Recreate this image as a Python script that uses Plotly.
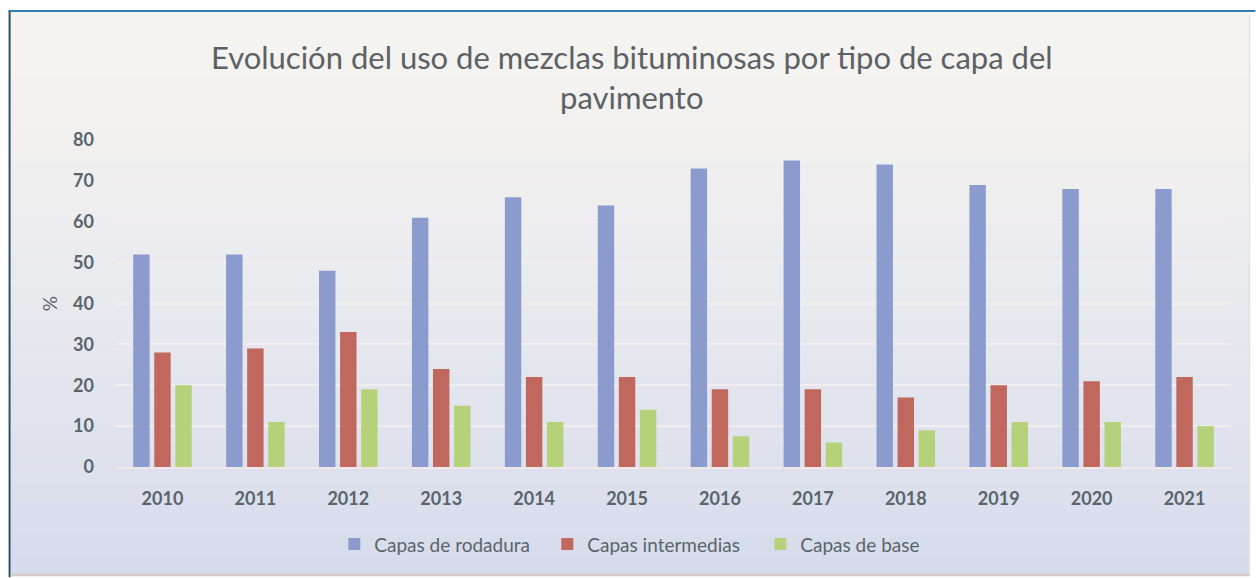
import plotly.graph_objects as go

years = ["2010", "2011", "2012", "2013", "2014", "2015", "2016", "2017", "2018", "2019", "2020", "2021"]
rodadura = [52, 52, 48, 61, 66, 64, 73, 75, 74, 69, 68, 68]
intermedias = [28, 29, 33, 24, 22, 22, 19, 19, 17, 20, 21, 22]
base = [20, 11, 19, 15, 11, 14, 7.5, 6, 9, 11, 11, 10]
series_names = ["Capas de rodadura", "Capas intermedias", "Capas de base"]
series_colors = ["#8B9BCD", "#C0675E", "#B5D27A"]

W, H = 1256, 578
L, R, T, B = 115.5, 1231.5, 139.5, 467.5

def px_x(px):
    return (px - L) / (R - L)

def px_y(py):
    return (B - py) / (B - T)

text_color = "#59646b"
font_family = "Lato, 'Open Sans', sans-serif"

fig = go.Figure()
for name, vals, col in zip(series_names, [rodadura, intermedias, base], series_colors):
    fig.add_trace(go.Bar(x=years, y=vals, name=name, marker=dict(color=col, line=dict(width=0))))

# background gradient bands
shapes = []
top_c = (246, 244, 240)
bot_c = (214, 219, 236)
y0, y1 = 11, 576
n = 60
for i in range(n):
    a = y0 + (y1 - y0) * i / n
    b = y0 + (y1 - y0) * (i + 1) / n
    t = (i + 0.5) / n
    t = t ** 1.3
    c = tuple(round(top_c[k] + (bot_c[k] - top_c[k]) * t) for k in range(3))
    shapes.append(dict(type="rect", xref="paper", yref="paper", layer="below",
                       x0=px_x(10), x1=px_x(1250), y0=px_y(a), y1=px_y(b + 0.6),
                       fillcolor="rgb(%d,%d,%d)" % c, line=dict(width=0)))
# frame
shapes.append(dict(type="line", xref="paper", yref="paper", x0=px_x(8), x1=px_x(1256), y0=px_y(10), y1=px_y(10),
                   line=dict(color="#2f7fb0", width=2)))
shapes.append(dict(type="line", xref="paper", yref="paper", x0=px_x(9), x1=px_x(9), y0=px_y(10), y1=px_y(578),
                   line=dict(color="#2b4e66", width=2)))
shapes.append(dict(type="line", xref="paper", yref="paper", x0=px_x(1250), x1=px_x(1250), y0=px_y(14), y1=px_y(576),
                   line=dict(color="#e6e2e4", width=1.5)))
shapes.append(dict(type="line", xref="paper", yref="paper", x0=px_x(10), x1=px_x(1250), y0=px_y(576), y1=px_y(576),
                   line=dict(color="#d8c8c4", width=2)))

fig.update_layout(
    width=W, height=H, autosize=False,
    margin=dict(l=L, r=W - R, t=T, b=H - B, pad=0),
    paper_bgcolor="white",
    plot_bgcolor="rgba(0,0,0,0)",
    shapes=shapes,
    barmode="group",
    bargap=0.32,
    bargroupgap=0.22,
    font=dict(family=font_family, color=text_color),
    title=dict(
        text="Evolución del uso de mezclas bituminosas por tipo de capa del<br>pavimento",
        x=0.503, xref="container", xanchor="center",
        y=1 - 69 / H, yref="container", yanchor="middle",
        font=dict(size=31, color="#5b6165", family=font_family),
    ),
    legend=dict(
        orientation="h", x=px_x(334), xanchor="left", y=px_y(545), yanchor="middle",
        font=dict(size=19, color=text_color), bgcolor="rgba(0,0,0,0)",
        itemwidth=30, traceorder="normal",
        entrywidth=168, entrywidthmode="pixels",
    ),
    xaxis=dict(
        showgrid=False, showline=True, linecolor="#f0e8e8", linewidth=1.5,
        tickfont=dict(size=18, color=text_color, family="Lato, sans-serif", weight="bold"),
        ticks="", ticklabelstandoff=15,
    ),
    yaxis=dict(
        range=[0, 80], dtick=10, showgrid=True, gridcolor="#f3eeee", gridwidth=1.5,
        zeroline=False, showline=False,
        tickfont=dict(size=18, color=text_color, family="Lato, sans-serif", weight="bold"),
        ticks="", ticklabelstandoff=21,
        title=dict(text="%", font=dict(size=19, color=text_color), standoff=10),
    ),
)

fig.write_html("out.html", config={"displayModeBar": False},
               post_script="document.body.style.margin='0px';document.body.style.padding='0px';")
